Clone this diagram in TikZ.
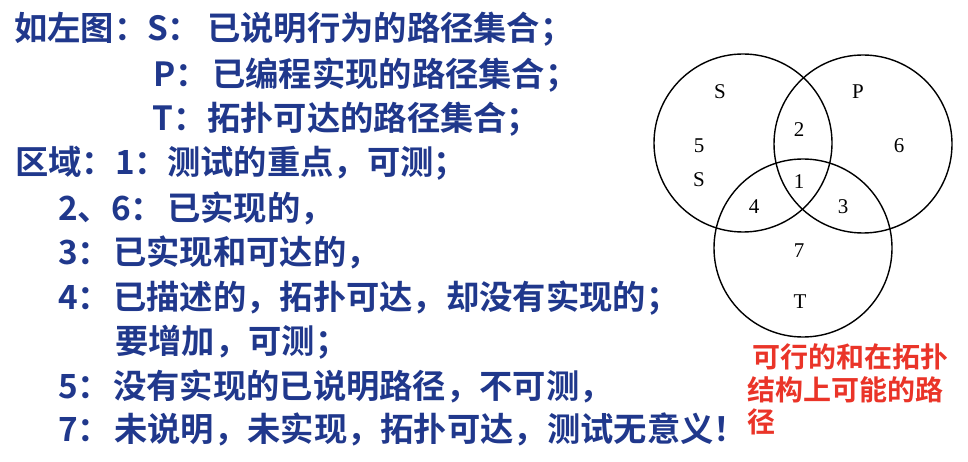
\documentclass[tikz,border=0pt]{standalone}
\usepackage{fontspec}
\newfontfamily\cjk{Noto Sans CJK SC}[BoldFont={Noto Sans CJK SC Bold}]
\newfontfamily\vennfont{Liberation Serif}
\definecolor{navy}{RGB}{32,56,140}
\definecolor{redtxt}{RGB}{234,52,40}
\begin{document}
\begin{tikzpicture}[x=1pt,y=-1pt,
  bluetxt/.style={anchor=base west, inner sep=0pt, text=navy,
    font=\cjk\bfseries\fontsize{33.3pt}{40pt}\selectfont},
  rednote/.style={anchor=base west, inner sep=0pt, text=redtxt,
    font=\cjk\bfseries\fontsize{28pt}{33pt}\selectfont},
  venn/.style={circle, draw=black, line width=1.4pt, minimum size=178pt, inner sep=0pt},
  vlabel/.style={inner sep=0pt, text=black, font=\vennfont\fontsize{21pt}{21pt}\selectfont}]
\useasboundingbox (0,0) rectangle (968,462);
\fill[white] (0,0) rectangle (968,462);

% text lines
\node[bluetxt] (l1a) at (14,40.8) {如左图：};
\node[bluetxt] (l1b) at (147,40.8) {S：};
\node[bluetxt] (l1c) at (207,40.8) {已说明行为的路径集合；};
\node[bluetxt] (l2a) at (153,86.8) {P：};
\node[bluetxt] (l2b) at (212,86.8) {已编程实现的路径集合；};
\node[bluetxt] (l3a) at (152,130.8) {T：};
\node[bluetxt] (l3b) at (207,130.8) {拓扑可达的路径集合；};
\node[bluetxt] (l4a) at (15,174.8) {区域：};
\node[bluetxt] (l4b) at (115,174.8) {1：};
\node[bluetxt] (l4c) at (167,174.8) {测试的重点，可测；};
\node[bluetxt] (l5a) at (58,220.8) {2、6：};
\node[bluetxt] (l5b) at (167,220.8) {已实现的，};
\node[bluetxt] (l6a) at (58,264.8) {3：};
\node[bluetxt] (l6b) at (113,264.8) {已实现和可达的，};
\node[bluetxt] (l7a) at (58,309.8) {4：};
\node[bluetxt] (l7b) at (113,309.8) {已描述的，拓扑可达，却没有实现的；};
\node[bluetxt] (l8) at (115,353.8) {要增加，可测；};
\node[bluetxt] (l9a) at (58,398.8) {5：};
\node[bluetxt] (l9b) at (113,398.8) {没有实现的已说明路径，不可测，};
\node[bluetxt] (l10a) at (58,441.8) {7：};
\node[bluetxt] (l10b) at (114,441.8) {未说明，未实现，拓扑可达，测试无意义\makebox[0.55em][l]{！}};

% red note
\node[rednote] (n1) at (752,367.6) {可行的和在拓扑};
\node[rednote] (n2) at (747,400.6) {结构上可能的路};
\node[rednote] (n3) at (747,432.6) {径};

% Venn diagram
\node[venn] (cS) at (743,143) {};
\node[venn] (cP) at (863,144) {};
\node[venn] (cT) at (803,248) {};
\node[vlabel] (tS) at (720,92) {S};
\node[vlabel] (tP) at (858,92) {P};
\node[vlabel] (t2) at (799,130) {2};
\node[vlabel] (t5) at (699,146) {5};
\node[vlabel] (t6) at (899,146) {6};
\node[vlabel] (tS2) at (699,180) {S};
\node[vlabel] (t1) at (799,182) {1};
\node[vlabel] (t4) at (754,207) {4};
\node[vlabel] (t3) at (843,207) {3};
\node[vlabel] (t7) at (799,251) {7};
\node[vlabel] (tT) at (800,302) {T};
\end{tikzpicture}
\end{document}
